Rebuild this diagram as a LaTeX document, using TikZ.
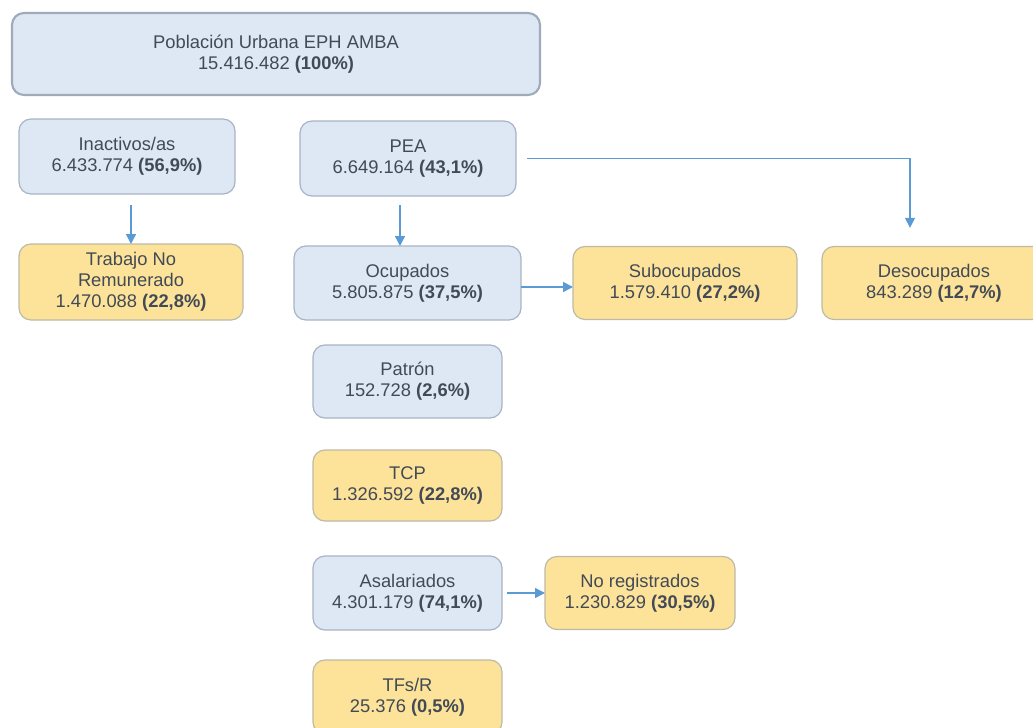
\documentclass[tikz,border=0pt]{standalone}
\usepackage{fontspec}
\setmainfont{Liberation Sans}
\usetikzlibrary{positioning, arrows.meta}

\definecolor{fondoazul}{HTML}{DEE8F4}
\definecolor{bordeazul}{HTML}{A8B4C4}
\definecolor{fondoamarillo}{HTML}{FDE39A}
\definecolor{bordeamarillo}{HTML}{BDBAA6}
\definecolor{texto}{HTML}{414A55}
\definecolor{flechaazul}{HTML}{5B9BD5}

\begin{document}
\begin{tikzpicture}[
    x=0.75pt, y=-0.75pt, % one unit = one pixel of the sketch
    font=\fontsize{13.75}{15.75}\selectfont,
    caja/.style={rectangle, rounded corners=9pt, align=center, text=texto, outer sep=0pt, inner sep=2pt},
    azul/.style={caja, draw=bordeazul, fill=fondoazul, line width=0.9pt},
    amarillo/.style={caja, draw=bordeamarillo, fill=fondoamarillo, line width=0.9pt},
    flecha/.style={draw=flechaazul, line width=1.1pt, -{Triangle[length=7.5pt, width=7.5pt]}}]

  \useasboundingbox (0,0) rectangle (1033,728);

  % Total population
  \node (total) [azul, line width=1.6pt, draw=bordeazul!95!black, minimum width=396pt, minimum height=61.5pt] at (276,54)
    {Población Urbana EPH AMBA\\15.416.482 \textbf{(100\%)}};

  % Second row
  \node (inact) [azul, minimum width=162pt, minimum height=56.25pt] at (127,156.5)
    {Inactivos/as\\6.433.774 \textbf{(56,9\%)}};
  \node (pea) [azul, minimum width=162pt, minimum height=56.25pt] at (408,158.5)
    {PEA\\6.649.164 \textbf{(43,1\%)}};

  % Third row
  \node (tnr) [amarillo, minimum width=168pt, minimum height=57pt] at (131,282)
    {Trabajo No\\Remunerado\\1.470.088 \textbf{(22,8\%)}};
  \node (ocup) [azul, minimum width=170.25pt, minimum height=55.5pt] at (407.5,283)
    {Ocupados\\5.805.875 \textbf{(37,5\%)}};
  \node (subo) [amarillo, minimum width=168pt, minimum height=54.75pt, right=39pt of ocup]
    {Subocupados\\1.579.410 \textbf{(27,2\%)}};
  \node (deso) [amarillo, minimum width=168pt, minimum height=54.75pt, right=18.75pt of subo]
    {Desocupados\\843.289 \textbf{(12,7\%)}};

  % Categories of the employed
  \node (patron) [azul, minimum width=141.75pt, minimum height=54.75pt, below=18.75pt of ocup]
    {Patrón\\152.728 \textbf{(2,6\%)}};
  \node (tcp) [amarillo, minimum width=141.75pt, minimum height=53.25pt, below=24pt of patron]
    {TCP\\1.326.592 \textbf{(22,8\%)}};
  \node (asal) [azul, minimum width=141.75pt, minimum height=55.5pt, below=26.25pt of tcp]
    {Asalariados\\4.301.179 \textbf{(74,1\%)}};
  \node (noreg) [amarillo, minimum width=142.5pt, minimum height=54.75pt, right=32.25pt of asal]
    {No registrados\\1.230.829 \textbf{(30,5\%)}};
  \node (tfs) [amarillo, minimum width=141.75pt, minimum height=55.5pt, below=22.5pt of asal]
    {TFs/R\\25.376 \textbf{(0,5\%)}};

  % Arrows
  \draw [flecha, shorten <=8.25pt] (inact.south -| tnr.north) -- (tnr.north);
  \draw [flecha, shorten <=6.75pt] ([xshift=-6pt]pea.south) -- ([xshift=-6pt]pea.south |- ocup.north);
  \draw [flecha, shorten <=8.25pt, shorten >=14pt] (pea.east) -| ([xshift=-18pt]deso.north);
  \draw [flecha] ([yshift=-3pt]ocup.east) -- ([yshift=-3pt]subo.west);
  \draw [flecha, shorten <=3.75pt] (asal.east) -- (noreg.west);
\end{tikzpicture}
\end{document}
